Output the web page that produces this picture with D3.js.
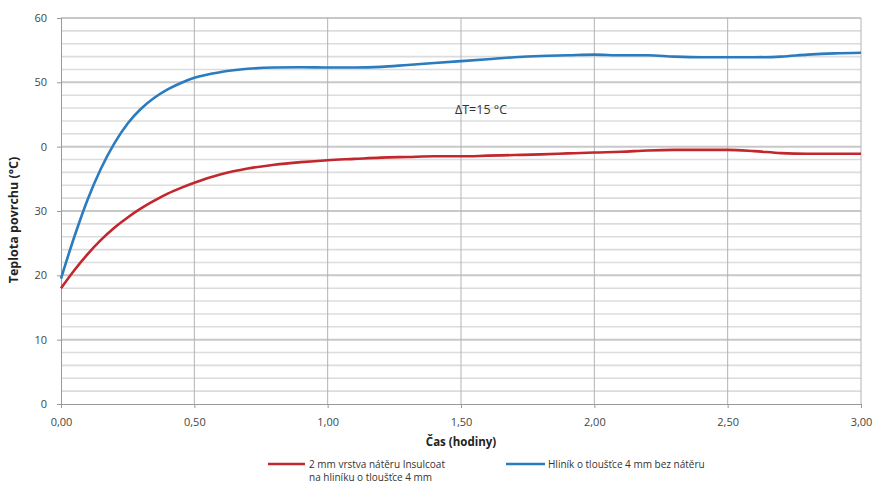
<!DOCTYPE html>
<html>
<head>
<meta charset="utf-8">
<script src="https://cdn.jsdelivr.net/npm/d3@7"></script>
<style>
  body { margin: 0; background: #fff; }
  svg { font-family: "Open Sans", "Liberation Sans", sans-serif; }
</style>
</head>
<body>
<div id="chart"></div>
<script>
// data
const hours = [0, 0.05, 0.1, 0.15, 0.2, 0.25, 0.3, 0.35, 0.4, 0.45, 0.5, 0.6, 0.7, 0.8, 0.9,
  1.0, 1.1, 1.2, 1.3, 1.4, 1.5, 1.6, 1.7, 1.8, 1.9, 2.0, 2.1, 2.2, 2.3, 2.4, 2.5, 2.6, 2.7, 2.8, 2.9, 3.0];
const coated = [18.0, 20.8, 23.3, 25.5, 27.4, 29.0, 30.4, 31.6, 32.7, 33.6, 34.4, 35.7, 36.6, 37.2, 37.6,
  37.9, 38.1, 38.3, 38.4, 38.5, 38.5, 38.6, 38.7, 38.8, 38.95, 39.1, 39.2, 39.4, 39.5, 39.5, 39.5, 39.3, 39.0, 38.9, 38.9, 38.9];
const bare = [19.5, 26.0, 31.8, 36.6, 40.5, 43.6, 45.9, 47.6, 48.9, 49.9, 50.7, 51.6, 52.1, 52.3, 52.35,
  52.3, 52.3, 52.4, 52.7, 53.0, 53.3, 53.6, 53.9, 54.1, 54.2, 54.3, 54.2, 54.2, 54.0, 53.9, 53.9, 53.9, 54.0, 54.3, 54.5, 54.6];

const xTicks = [0, 0.5, 1, 1.5, 2, 2.5, 3];
const xTickLabels = ["0,00", "0,50", "1,00", "1,50", "2,00", "2,50", "3,00"];
const yTicks = [0, 10, 20, 30, 40, 50, 60];
const yTickLabels = ["0", "10", "20", "30", "0", "50", "60"]; // as printed in the source
const seriesNames = ["2 mm vrstva nátěru Insulcoat", "Hliník o tloušťce 4 mm bez nátěru"];
const seriesNames2 = "na hliníku o tloušťce 4 mm";

const width = 874, height = 500;
const plotL = 61, plotR = 861, plotT = 18, plotB = 404;

const svg = d3.select("#chart").append("svg")
  .attr("width", width)
  .attr("height", height);

const x = d3.scaleLinear().domain([0, 3]).range([plotL, plotR]);
const y = d3.scaleLinear().domain([0, 60]).range([plotB, plotT]);

// minor horizontal grid every 2
const grid = svg.append("g");
grid.selectAll("line.minor")
  .data(d3.range(2, 61, 2).filter(v => v % 10 !== 0))
  .join("line")
  .attr("x1", plotL).attr("x2", plotR)
  .attr("y1", d => y(d)).attr("y2", d => y(d))
  .attr("stroke", "#dcdcdc").attr("stroke-width", 1.6);

grid.selectAll("line.major")
  .data(yTicks.filter(v => v > 0))
  .join("line")
  .attr("x1", plotL).attr("x2", plotR)
  .attr("y1", d => y(d)).attr("y2", d => y(d))
  .attr("stroke", "#c8c8c8").attr("stroke-width", 2);

grid.selectAll("line.v")
  .data(xTicks.filter(v => v > 0))
  .join("line")
  .attr("x1", d => x(d)).attr("x2", d => x(d))
  .attr("y1", plotT).attr("y2", plotB)
  .attr("stroke", "#b4b4b4").attr("stroke-width", 1);

// axes
const yAxis = d3.axisLeft(y).tickValues(yTicks).tickSize(4)
  .tickFormat((d, i) => yTickLabels[i]);
const gy = svg.append("g").attr("transform", `translate(${plotL},0)`).call(yAxis);
gy.select(".domain").attr("stroke", "#999");
gy.selectAll(".tick line").attr("stroke", "#999");
gy.selectAll(".tick text").attr("x", -14).attr("font-size", 11).attr("fill", "#444")
  .attr("font-family", "Open Sans, sans-serif");

const xAxis = d3.axisBottom(x).tickValues(xTicks).tickSize(4)
  .tickFormat((d, i) => xTickLabels[i]);
const gx = svg.append("g").attr("transform", `translate(0,${plotB})`).call(xAxis);
gx.select(".domain").attr("stroke", "#999");
gx.selectAll(".tick line").attr("stroke", "#999");
gx.selectAll(".tick text").attr("y", 14).attr("font-size", 11).attr("fill", "#444")
  .attr("font-family", "Open Sans, sans-serif");

// axis titles
svg.append("text")
  .attr("x", 461).attr("y", 446)
  .attr("text-anchor", "middle")
  .attr("font-size", 11.5).attr("font-weight", "bold").attr("fill", "#222")
  .text("Čas (hodiny)");

svg.append("text")
  .attr("transform", `translate(18,220) rotate(-90)`)
  .attr("text-anchor", "middle")
  .attr("font-size", 12.5).attr("font-weight", "bold").attr("fill", "#222")
  .text("Teplota povrchu (°C)");

// lines
const line = d3.line()
  .x((d, i) => x(hours[i]))
  .y(d => y(d))
  .curve(d3.curveMonotoneX);

svg.append("path").datum(coated)
  .attr("d", line).attr("fill", "none")
  .attr("stroke", "#c1272d").attr("stroke-width", 2.6);

svg.append("path").datum(bare)
  .attr("d", line).attr("fill", "none")
  .attr("stroke", "#2b7bbf").attr("stroke-width", 2.6);

// annotation
svg.append("text")
  .attr("x", 455).attr("y", 114)
  .attr("font-size", 12.5).attr("fill", "#333")
  .text("ΔT=15 °C");

// legend
const lg = svg.append("g").attr("font-size", 10).attr("fill", "#333");
lg.append("line").attr("x1", 268).attr("x2", 305).attr("y1", 464).attr("y2", 464)
  .attr("stroke", "#c1272d").attr("stroke-width", 2.6);
lg.append("text").attr("x", 309).attr("y", 467.5).text(seriesNames[0]);
lg.append("text").attr("x", 309).attr("y", 481).text(seriesNames2);
lg.append("line").attr("x1", 506).attr("x2", 545).attr("y1", 464).attr("y2", 464)
  .attr("stroke", "#2b7bbf").attr("stroke-width", 2.6);
lg.append("text").attr("x", 548).attr("y", 467.5).text(seriesNames[1]);
</script>
</body>
</html>
